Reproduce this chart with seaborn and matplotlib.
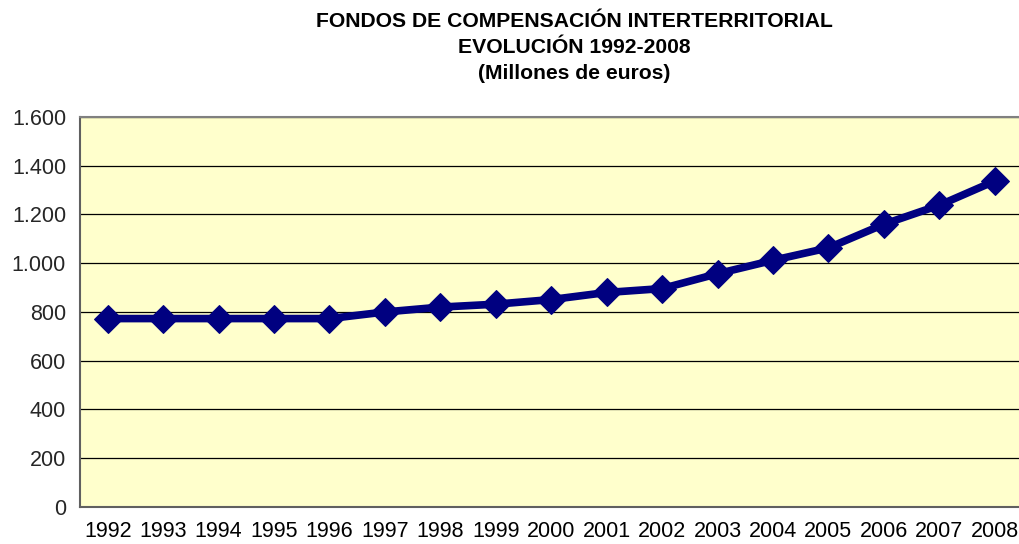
import pandas as pd
import seaborn as sns
import matplotlib.pyplot as plt
from matplotlib.ticker import FuncFormatter, FixedLocator

years = ["1992", "1993", "1994", "1995", "1996", "1997", "1998", "1999", "2000",
         "2001", "2002", "2003", "2004", "2005", "2006", "2007", "2008"]
fondos = [773, 773, 773, 773, 773, 800, 820, 832, 851,
          880, 896, 957, 1012, 1063, 1160, 1238, 1337]
y_ticks = [0, 200, 400, 600, 800, 1000, 1200, 1400, 1600]


def thousands(v, pos):
    return f"{int(v):,}".replace(",", ".")


def build_graph(df: pd.DataFrame):
    sns.set_style("white")
    plt.rcParams['font.family'] = ['Liberation Sans', 'DejaVu Sans']
    fig = plt.figure(figsize=(10.2, 5.44), dpi=100)
    ax = fig.add_axes([0.0784, 0.068, 0.924, 0.717])
    ax.set_facecolor("#FFFFCC")

    for v in y_ticks[1:]:
        ax.axhline(v, color="#000000", linewidth=0.9, zorder=1)

    sns.lineplot(data=df, x="pos", y="fondos", color="#000080", linewidth=5.5,
                 marker="D", markersize=14, markeredgecolor="#000080",
                 ax=ax, zorder=3, clip_on=False)

    ax.set_xlim(-0.5, len(years) - 0.5)
    ax.set_ylim(0, 1600)
    ax.set_yticks(y_ticks)
    ax.yaxis.set_major_formatter(FuncFormatter(thousands))
    ax.set_xticks(range(len(years)))
    ax.set_xticklabels(years)
    ax.xaxis.set_minor_locator(FixedLocator([i - 0.5 for i in range(len(years) + 1)]))
    ax.tick_params(axis="x", which="major", length=0, pad=10, labelsize=15.5, colors="black")
    ax.tick_params(axis="x", which="minor", length=6, width=1.2, color="#404040")
    ax.tick_params(axis="y", length=6, width=1.2, color="#404040", labelsize=15.5, pad=4)
    ax.set_xlabel("")
    ax.set_ylabel("")

    ax.spines["left"].set_color("#606060")
    ax.spines["left"].set_linewidth(1.5)
    ax.spines["bottom"].set_color("#606060")
    ax.spines["bottom"].set_linewidth(1.5)
    ax.spines["top"].set_color("#808080")
    ax.spines["top"].set_linewidth(1.5)
    ax.spines["right"].set_visible(False)

    fig.text(0.563, 0.961, "FONDOS DE COMPENSACIÓN INTERTERRITORIAL", ha="center", va="center",
             fontsize=15.2, fontweight="bold", color="black")
    fig.text(0.563, 0.913, "EVOLUCIÓN 1992-2008", ha="center", va="center",
             fontsize=15.2, fontweight="bold", color="black")
    fig.text(0.563, 0.864, "(Millones de euros)", ha="center", va="center",
             fontsize=15.2, fontweight="bold", color="black")

    plt.savefig("out.png", dpi=100)


def main():
    df = pd.DataFrame({"pos": range(len(years)), "year": years, "fondos": fondos})
    build_graph(df)


if __name__ == "__main__":
    main()
